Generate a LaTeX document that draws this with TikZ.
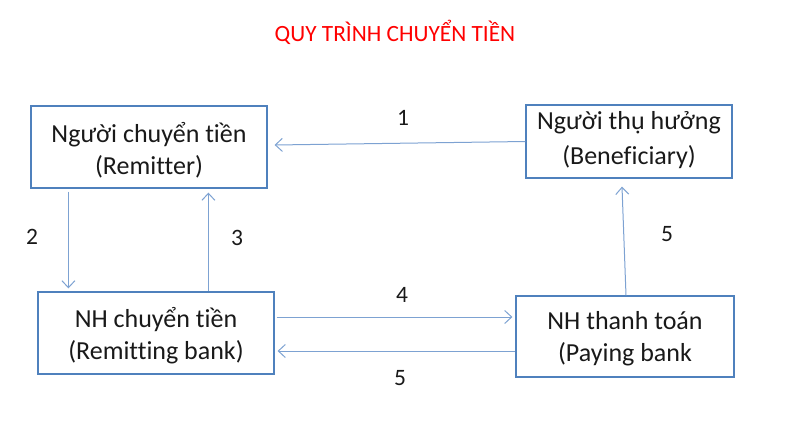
\documentclass[tikz,border=0pt]{standalone}
\usepackage{fontspec}
\setmainfont{Carlito}[Ligatures=NoCommon]
\usetikzlibrary{arrows.meta}
\definecolor{boxblue}{RGB}{79,129,189}
\definecolor{arrblue}{RGB}{125,162,210}
\definecolor{titlered}{RGB}{255,0,0}
\begin{document}
\begin{tikzpicture}[x=1pt,y=-1pt,
  box/.style={draw=boxblue,line width=1.2pt,align=center,inner sep=0pt,
    font=\fontsize{26}{32}\selectfont,text=black!90},
  conn/.style={draw=arrblue,line width=1pt,-{Straight Barb[length=7pt,width=13pt,line width=1pt]}},
  num/.style={font=\fontsize{23.5}{26}\selectfont,text=black!90}]
\useasboundingbox (0,0) rectangle (806,428);
\node[font=\fontsize{23.3}{26}\selectfont,text=titlered] (title) at (395,32) {QUY TRÌNH CHUYỂN TIỀN};
\node[box,minimum width=236pt,minimum height=82pt] (b1) at (149,147) {};
\node[box,draw=none,font=\fontsize{26}{32}\selectfont] (t1) at (149,150) {Người chuyển tiền\\(Remitter)};
\node[box,minimum width=206pt,minimum height=73pt] (b2) at (629,141.5) {};
\node[box,draw=none,font=\fontsize{26}{35}\selectfont] (t2) at (629,140) {Người thụ hưởng\\(Beneficiary)};
\node[box,minimum width=236pt,minimum height=82pt] (b3) at (156,333) {};
\node[box,draw=none] (t3) at (156,336) {NH chuyển tiền\\(Remitting bank)};
\node[box,minimum width=218pt,minimum height=81pt] (b4) at (625,336.5) {};
\node[box,draw=none] (t4) at (625,338.5) {NH thanh toán\\(Paying bank};
% arrows
\draw[conn] (b2.west) -- ([xshift=7pt,yshift=2pt]b1.east);
\draw[conn] ([xshift=38pt,yshift=-3pt]b1.south west) -- ([xshift=31pt,yshift=3pt]b3.north west);
\draw[conn] ([xshift=171pt]b3.north west) -- ([xshift=178pt,yshift=-4pt]b1.south west);
\draw[conn] ([xshift=2pt,yshift=16pt]b3.east) -- ([xshift=-3pt,yshift=19.5pt]b4.west);
\draw[conn] ([yshift=-14.5pt]b4.west) -- ([xshift=3pt,yshift=-18pt]b3.east);
\draw[conn] ([xshift=1pt]b4.north) -- ([xshift=-7pt,yshift=-8pt]b2.south);
% labels
\node[num] (l1) at (403,118) {1};
\node[num] (l2) at (32,237) {2};
\node[num] (l3) at (237,238) {3};
\node[num] (l4) at (402,295) {4};
\node[num] (l5a) at (400,378) {5};
\node[num] (l5b) at (667,234) {5};
\end{tikzpicture}
\end{document}
